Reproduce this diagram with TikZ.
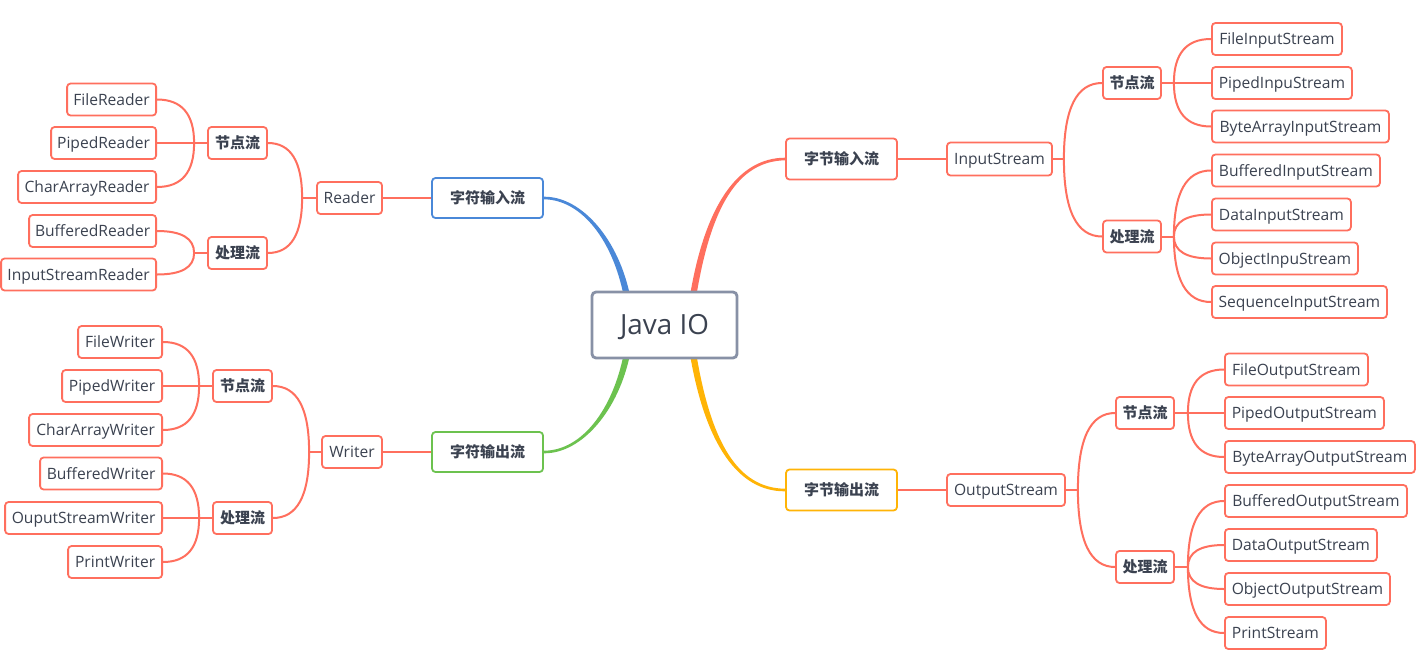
\documentclass[tikz,border=0pt]{standalone}
\usepackage{fontspec}
\setmainfont{Open Sans}
\newfontfamily\cjk{Noto Sans CJK SC}
\usetikzlibrary{backgrounds,calc}
\definecolor{coral}{HTML}{FF6F5E}
\definecolor{cblue}{HTML}{4A88D8}
\definecolor{cgreen}{HTML}{6CC24F}
\definecolor{cyellow}{HTML}{FFB406}
\definecolor{rootgray}{HTML}{8891A6}
\definecolor{txt}{HTML}{3B4250}
\tikzset{
  box/.style={draw=coral, line width=1.8pt, rounded corners=3.5pt, fill=white, text=txt,
    inner sep=0pt, minimum height=32pt, text height=11pt, text depth=0pt,
    font=\fontsize{15.6}{18}\selectfont},
  leafR/.style={box, anchor=west},
  leafL/.style={box, anchor=east},
  cbox/.style={box, minimum width=58pt, text height=12.6pt, text depth=1.6pt,
    font=\cjk\bfseries\fontsize{15}{18}\selectfont},
  lonebox/.style={cbox, minimum width=111pt, minimum height=41pt},
  conn/.style={draw=coral, line width=2pt},
}
\newcommand{\curveto}[2]{%
  \draw[conn] (#1) .. controls ($(#1)!0.667!(#1 |- #2)$) and ($(#2)!0.667!(#1 |- #2)$) .. (#2);}
\begin{document}
\begin{tikzpicture}[x=1pt,y=-1pt]
\useasboundingbox (0,0) rectangle (1418,667);
\begin{scope}[on background layer]
\fill[white] (0,0) rectangle (1418,667);
\end{scope}

% root
\node[box, draw=rootgray, line width=2.8pt, rounded corners=4pt, minimum width=145pt, minimum height=66pt,
  text height=19.6pt, font=\fontsize{27.8}{32}\selectfont] (root) at (664.5,325) {Java IO};

% level 1
\node[lonebox] (bin) at (841.5,159) {字节输入流};
\node[lonebox, draw=cyellow] (bout) at (841.5,490) {字节输出流};
\node[lonebox, draw=cblue, minimum height=40pt] (cin) at (487.5,198) {字符输入流};
\node[lonebox, draw=cgreen, minimum height=40pt] (cout) at (487.5,452) {字符输出流};

% level 2
\node[box, minimum width=105pt, minimum height=33pt] (IS) at (999.5,159) {InputStream};
\node[box, minimum width=118pt] (OS) at (1006,490) {OutputStream};
\node[box, minimum width=65pt] (RD) at (349.5,198) {Reader};
\node[box, minimum width=60pt] (WR) at (352,452) {Writer};

% level 3
\node[cbox] (isn) at (1132,83) {节点流};
\node[cbox] (isp) at (1132,236.5) {处理流};
\node[cbox] (osn) at (1145,413) {节点流};
\node[cbox] (osp) at (1145,567) {处理流};
\node[cbox, minimum width=59pt] (rdn) at (237.5,143) {节点流};
\node[cbox, minimum width=59pt] (rdp) at (237.5,253) {处理流};
\node[cbox, minimum width=59pt] (wrn) at (242.5,386) {节点流};
\node[cbox, minimum width=59pt] (wrp) at (242.5,518) {处理流};

% leaves: InputStream
\node[leafR, minimum width=130pt] (i1) at (1211,39) {FileInputStream};
\node[leafR, minimum width=140pt] (i2) at (1211,83) {PipedInpuStream};
\node[leafR, minimum width=177pt] (i3) at (1211,126.5) {ByteArrayInputStream};
\node[leafR, minimum width=168pt] (i4) at (1211,170.5) {BufferedInputStream};
\node[leafR, minimum width=139pt] (i5) at (1211,214.5) {DataInputStream};
\node[leafR, minimum width=146pt] (i6) at (1211,258.5) {ObjectInpuStream};
\node[leafR, minimum width=175pt] (i7) at (1211,302) {SequenceInputStream};

% leaves: OutputStream
\node[leafR, minimum width=143pt] (o1) at (1224,369.5) {FileOutputStream};
\node[leafR, minimum width=159pt] (o2) at (1224,413) {PipedOutputStream};
\node[leafR, minimum width=190pt] (o3) at (1224,457) {ByteArrayOutputStream};
\node[leafR, minimum width=182pt] (o4) at (1224,501) {BufferedOutputStream};
\node[leafR, minimum width=152pt] (o5) at (1224,545) {DataOutputStream};
\node[leafR, minimum width=165pt] (o6) at (1224,589) {ObjectOutputStream};
\node[leafR, minimum width=101pt] (o7) at (1224,633) {PrintStream};

% leaves: Reader
\node[leafL, minimum width=89pt] (r1) at (157,99.5) {FileReader};
\node[leafL, minimum width=105pt] (r2) at (157,143) {PipedReader};
\node[leafL, minimum width=138pt] (r3) at (157,187) {CharArrayReader};
\node[leafL, minimum width=127pt] (r4) at (157,231) {BufferedReader};
\node[leafL, minimum width=155pt] (r5) at (157,274.5) {InputStreamReader};

% leaves: Writer
\node[leafL, minimum width=84pt] (w1) at (163,342) {FileWriter};
\node[leafL, minimum width=100pt] (w2) at (163,386) {PipedWriter};
\node[leafL, minimum width=133pt] (w3) at (163,430) {CharArrayWriter};
\node[leafL, minimum width=122pt] (w4) at (163,473.5) {BufferedWriter};
\node[leafL, minimum width=157pt] (w5) at (163,518) {OuputStreamWriter};
\node[leafL, minimum width=94pt] (w6) at (163,562) {PrintWriter};

\begin{scope}[on background layer]
% main tapered branches
\fill[coral] ($(root.north)+(25.3,6)$) .. controls (705,205) and (738,157.8) .. ($(bin.west)+(0,-1.3)$)
  -- ($(bin.west)+(0,1.3)$) .. controls (738,161.2) and (711,206) .. ($(root.north)+(31.7,6)$) -- cycle;
\fill[cyellow] ($(root.south)+(25.3,-6)$) .. controls (705,444) and (738,491.7) .. ($(bout.west)+(0,1.3)$)
  -- ($(bout.west)+(0,-1.3)$) .. controls (738,488.3) and (711,443) .. ($(root.south)+(31.7,-6)$) -- cycle;
\fill[cblue] ($(root.north)+(-34.3,6)$) .. controls (619,240) and (582,196.3) .. ($(cin.east)+(0,-1.3)$)
  -- ($(cin.east)+(0,1.3)$) .. controls (582,199.7) and (613,241) .. ($(root.north)+(-40.7,6)$) -- cycle;
\fill[cgreen] ($(root.south)+(-40.7,-6)$) .. controls (613,409) and (582,450.7) .. ($(cout.east)+(0,-1.3)$)
  -- ($(cout.east)+(0,1.3)$) .. controls (582,453.7) and (619,410) .. ($(root.south)+(-34.3,-6)$) -- cycle;

% level 1 -> level 2
\draw[conn] (bin.east) -- (IS.west);
\draw[conn] (bout.east) -- (OS.west);
\draw[conn] (cin.west) -- (RD.east);
\draw[conn] (cout.west) -- (WR.east);

% level 2 -> level 3
\draw[conn] (IS.east) -- ++(11,0) coordinate (bIS);
\foreach \c in {isn,isp} {\curveto{bIS}{\c.west}}
\draw[conn] (OS.east) -- ++(12,0) coordinate (bOS);
\foreach \c in {osn,osp} {\curveto{bOS}{\c.west}}
\draw[conn] (RD.west) -- ++(-14,0) coordinate (bRD);
\foreach \c in {rdn,rdp} {\curveto{bRD}{\c.east}}
\draw[conn] (WR.west) -- ++(-12,0) coordinate (bWR);
\foreach \c in {wrn,wrp} {\curveto{bWR}{\c.east}}

% level 3 -> leaves
\draw[conn] (isn.east) -- ++(12,0) coordinate (b1);
\foreach \c in {i1,i2,i3} {\curveto{b1}{\c.west}}
\draw[conn] (isp.east) -- ++(12,0) coordinate (b2);
\foreach \c in {i4,i5,i6,i7} {\curveto{b2}{\c.west}}
\draw[conn] (osn.east) -- ++(13,0) coordinate (b3);
\foreach \c in {o1,o2,o3} {\curveto{b3}{\c.west}}
\draw[conn] (osp.east) -- ++(13,0) coordinate (b4);
\foreach \c in {o4,o5,o6,o7} {\curveto{b4}{\c.west}}
\draw[conn] (rdn.west) -- ++(-13,0) coordinate (b5);
\foreach \c in {r1,r2,r3} {\curveto{b5}{\c.east}}
\draw[conn] (rdp.west) -- ++(-13,0) coordinate (b6);
\foreach \c in {r4,r5} {\curveto{b6}{\c.east}}
\draw[conn] (wrn.west) -- ++(-13,0) coordinate (b7);
\foreach \c in {w1,w2,w3} {\curveto{b7}{\c.east}}
\draw[conn] (wrp.west) -- ++(-13,0) coordinate (b8);
\foreach \c in {w4,w5,w6} {\curveto{b8}{\c.east}}
\end{scope}
\end{tikzpicture}
\end{document}
